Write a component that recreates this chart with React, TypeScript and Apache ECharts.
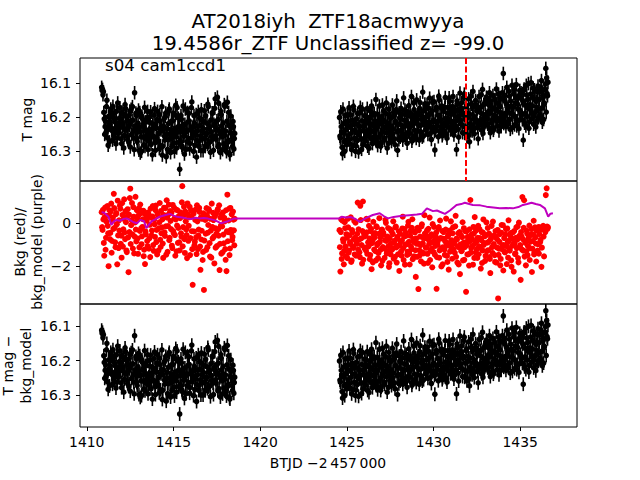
import React, { useEffect, useRef } from "react";
import * as echarts from "echarts";

// ---- data ----
const SEG1_START = 1410.86;
const SEG2_START = 1424.58;
const CADENCE = 0.05;
const HALF_STEP = 0.025;
const MAG_ERR = 0.02;
const MARK_TIME = 1431.85;

// cadences at SEGn_START + i*CADENCE
const seg1Mag = [
  16.112, 16.118, 16.125, 16.205, 16.228, 16.245, 16.150, 16.262, 16.198, 16.273,
  16.215, 16.188, 16.240, 16.168, 16.256, 16.207, 16.232, 16.183, 16.262, 16.219,
  16.246, 16.172, 16.205, 16.278, 16.229, 16.191, 16.254, 16.163, 16.238, 16.211,
  16.267, 16.196, 16.224, 16.288, 16.177, 16.249, 16.209, 16.262, 16.128, 16.236,
  16.195, 16.272, 16.218, 16.298, 16.186, 16.243, 16.301, 16.205, 16.259, 16.228,
  16.287, 16.214, 16.252, 16.183, 16.269, 16.236, 16.198, 16.281, 16.242, 16.221,
  16.256, 16.175, 16.298, 16.232, 16.207, 16.271, 16.248, 16.193, 16.284, 16.226,
  16.312, 16.241, 16.204, 16.267, 16.188, 16.251, 16.295, 16.219, 16.176, 16.263,
  16.238, 16.286, 16.211, 16.247, 16.302, 16.194, 16.258, 16.172, 16.229, 16.275,
  16.354, 16.243, 16.206, 16.289, 16.167, 16.254, 16.221, 16.296, 16.238, 16.186,
  16.263, 16.211, 16.278, 16.239, 16.155, 16.252, 16.301, 16.217, 16.244, 16.192,
  16.269, 16.227, 16.286, 16.203, 16.255, 16.178, 16.241, 16.299, 16.214, 16.262,
  16.196, 16.248, 16.281, 16.169, 16.235, 16.273, 16.209, 16.257, 16.188, 16.298,
  16.226, 16.146, 16.264, 16.211, 16.287, 16.159, 16.242, 16.305, 16.193, 16.258,
  16.217, 16.279, 16.168, 16.241, 16.302, 16.156, 16.268, 16.224, 16.311, 16.197,
  16.249, 16.286, 16.228, 16.263,
];
// cadences at SEG1_START + HALF_STEP + i*CADENCE
const seg1MagB = [
  16.121, 16.134, 16.186, 16.251, 16.212, 16.169, 16.237, 16.283, 16.224, 16.197,
  16.176, 16.234, 16.268, 16.201, 16.189, 16.247, 16.279, 16.226, 16.158, 16.241,
  16.203, 16.229, 16.264, 16.185, 16.218, 16.291, 16.236, 16.174, 16.199, 16.258,
  16.232, 16.275, 16.182, 16.214, 16.252, 16.169, 16.241, 16.296, 16.227, 16.188,
  16.263, 16.244, 16.179, 16.231, 16.306, 16.258, 16.197, 16.223, 16.282, 16.171,
  16.238, 16.265, 16.202, 16.296, 16.247, 16.215, 16.184, 16.259, 16.311, 16.233,
  16.194, 16.274, 16.221, 16.262, 16.183, 16.247, 16.293, 16.212, 16.238, 16.169,
  16.286, 16.227, 16.256, 16.198, 16.317, 16.234, 16.267, 16.181, 16.249, 16.305,
  16.212, 16.261, 16.188, 16.276, 16.233, 16.165, 16.291, 16.245, 16.203, 16.227,
  16.268, 16.195, 16.284, 16.231, 16.257, 16.309, 16.176, 16.243, 16.272, 16.214,
  16.189, 16.294, 16.236, 16.172, 16.261, 16.228, 16.195, 16.283, 16.251, 16.318,
  16.241, 16.183, 16.272, 16.225, 16.299, 16.207, 16.264, 16.234, 16.181, 16.287,
  16.253, 16.218, 16.162, 16.276, 16.229, 16.304, 16.243, 16.187, 16.265, 16.221,
  16.174, 16.255, 16.232, 16.141, 16.207, 16.281, 16.249, 16.183, 16.226, 16.296,
  16.238, 16.163, 16.254, 16.291, 16.212, 16.274, 16.186, 16.307, 16.245, 16.231,
  16.272, 16.213, 16.294, 16.248,
];

const seg2Mag = [
  16.201, 16.262, 16.228, 16.289, 16.176, 16.247, 16.301, 16.214, 16.268, 16.193,
  16.255, 16.172, 16.279, 16.231, 16.296, 16.208, 16.168, 16.262, 16.219, 16.285,
  16.246, 16.189, 16.303, 16.227, 16.171, 16.265, 16.211, 16.282, 16.239, 16.196,
  16.271, 16.218, 16.174, 16.256, 16.292, 16.203, 16.241, 16.167, 16.278, 16.226,
  16.189, 16.263, 16.148, 16.235, 16.284, 16.212, 16.167, 16.251, 16.276, 16.198,
  16.243, 16.181, 16.268, 16.214, 16.158, 16.291, 16.229, 16.176, 16.257, 16.203,
  16.272, 16.164, 16.236, 16.195, 16.281, 16.216, 16.152, 16.298, 16.241, 16.187,
  16.259, 16.174, 16.225, 16.268, 16.143, 16.209, 16.252, 16.183, 16.277, 16.221,
  16.166, 16.248, 16.197, 16.139, 16.262, 16.218, 16.178, 16.254, 16.205, 16.149,
  16.241, 16.186, 16.268, 16.157, 16.224, 16.198, 16.126, 16.255, 16.213, 16.172,
  16.236, 16.162, 16.251, 16.193, 16.144, 16.228, 16.266, 16.181, 16.213, 16.154,
  16.297, 16.239, 16.171, 16.215, 16.258, 16.148, 16.196, 16.232, 16.167, 16.249,
  16.183, 16.241, 16.142, 16.217, 16.262, 16.171, 16.206, 16.153, 16.238, 16.192,
  16.227, 16.139, 16.253, 16.185, 16.211, 16.296, 16.162, 16.236, 16.178, 16.129,
  16.214, 16.157, 16.246, 16.188, 16.132, 16.229, 16.171, 16.258, 16.201, 16.146,
  16.273, 16.219, 16.162, 16.241, 16.124, 16.197, 16.233, 16.151, 16.208, 16.176,
  16.264, 16.139, 16.216, 16.171, 16.238, 16.118, 16.193, 16.227, 16.154, 16.202,
  16.145, 16.221, 16.183, 16.128, 16.246, 16.167, 16.209, 16.136, 16.232, 16.174,
  16.198, 16.117, 16.226, 16.159, 16.241, 16.142, 16.187, 16.213, 16.128, 16.071,
  16.201, 16.153, 16.228, 16.112, 16.184, 16.219, 16.138, 16.236, 16.167, 16.106,
  16.192, 16.131, 16.223, 16.158, 16.104, 16.211, 16.176, 16.234, 16.121, 16.185,
  16.146, 16.208, 16.268, 16.117, 16.189, 16.226, 16.135, 16.172, 16.101, 16.214,
  16.163, 16.098, 16.204, 16.142, 16.221, 16.119, 16.185, 16.153, 16.211, 16.108,
  16.176, 16.124, 16.198, 16.092, 16.215, 16.141, 16.162, 16.118, 16.056, 16.084,
  16.137,
];
const seg2MagB = [
  16.256, 16.184, 16.243, 16.308, 16.219, 16.272, 16.195, 16.237, 16.281, 16.226,
  16.212, 16.267, 16.193, 16.248, 16.223, 16.284, 16.179, 16.239, 16.301, 16.205,
  16.269, 16.221, 16.252, 16.187, 16.242, 16.295, 16.176, 16.228, 16.263, 16.214,
  16.198, 16.247, 16.286, 16.213, 16.237, 16.182, 16.264, 16.221, 16.193, 16.259,
  16.247, 16.213, 16.272, 16.191, 16.228, 16.259, 16.203, 16.286, 16.219, 16.164,
  16.208, 16.262, 16.231, 16.189, 16.246, 16.218, 16.277, 16.195, 16.236, 16.258,
  16.227, 16.249, 16.186, 16.264, 16.213, 16.178, 16.243, 16.222, 16.267, 16.201,
  16.204, 16.238, 16.192, 16.251, 16.227, 16.179, 16.262, 16.213, 16.195, 16.244,
  16.232, 16.187, 16.226, 16.271, 16.204, 16.158, 16.239, 16.192, 16.263, 16.218,
  16.193, 16.225, 16.174, 16.243, 16.206, 16.259, 16.182, 16.221, 16.161, 16.238,
  16.198, 16.227, 16.173, 16.215, 16.249, 16.188, 16.232, 16.156, 16.208, 16.243,
  16.212, 16.179, 16.226, 16.194, 16.138, 16.241, 16.207, 16.173, 16.255, 16.219,
  16.226, 16.171, 16.204, 16.252, 16.188, 16.229, 16.143, 16.213, 16.181, 16.236,
  16.169, 16.213, 16.241, 16.178, 16.227, 16.152, 16.198, 16.259, 16.207, 16.184,
  16.174, 16.223, 16.193, 16.142, 16.248, 16.207, 16.166, 16.231, 16.189, 16.253,
  16.192, 16.138, 16.227, 16.171, 16.205, 16.249, 16.163, 16.214, 16.182, 16.231,
  16.171, 16.223, 16.186, 16.134, 16.207, 16.248, 16.162, 16.219, 16.193, 16.141,
  16.206, 16.162, 16.231, 16.189, 16.152, 16.217, 16.176, 16.239, 16.195, 16.148,
  16.158, 16.213, 16.183, 16.132, 16.204, 16.169, 16.228, 16.146, 16.191, 16.219,
  16.136, 16.192, 16.161, 16.214, 16.175, 16.124, 16.207, 16.152, 16.189, 16.231,
  16.171, 16.118, 16.198, 16.143, 16.226, 16.162, 16.137, 16.209, 16.182, 16.128,
  16.193, 16.152, 16.121, 16.218, 16.164, 16.106, 16.198, 16.147, 16.233, 16.176,
  16.132, 16.189, 16.167, 16.114, 16.196, 16.148, 16.229, 16.171, 16.126, 16.202,
  16.148, 16.193, 16.112, 16.173, 16.136, 16.207, 16.159, 16.102, 16.185, 16.131,
  16.097,
];

const seg1Bkg = [
  0.52, -0.31, 0.18, -1.52, 0.74, -0.68, 0.35, -0.12, -2.01, 0.61,
  -0.45, 0.92, -0.83, 0.27, 1.38, -0.21, -1.12, 0.48, -1.92, -0.57,
  0.14, 0.83, -0.96, -1.61, 0.39, -0.28, 1.12, -0.74, 0.05, -1.35,
  0.66, -2.29, -0.41, 1.62, -0.09, 0.95, -1.18, 0.31, -0.62, 1.24,
  -0.85, 0.22, -1.43, 0.71, -0.36, 0.48, -0.98, -0.17, 0.59, -1.24,
  -1.91, -0.52, 0.12, -1.07, 0.43, -0.71, -1.58, 0.26, -0.34, 0.81,
  -1.29, -0.05, 0.62, -0.88, -1.46, 0.37, -0.23, 0.95, -1.11, -0.47,
  0.18, -1.62, 0.73, -0.59, -0.14, 1.08, -1.34, 0.41, -0.79, 0.57,
  -0.27, -1.05, 0.86, -0.46, 0.23, -1.52, 0.64, -0.11, -0.92, 0.34,
  -1.27, 0.51, -0.63, 1.74, -0.18, 0.77, -1.39, 0.09, -0.55, 0.93,
  -0.82, 0.28, -1.49, 0.62, -0.37, -2.88, 0.45, -1.03, 0.16, -0.66,
  0.84, -1.21, -0.29, 0.53, -2.18, -0.76, 0.21, -1.34, -3.12, 0.38,
  -0.49, 0.71, -1.12, -0.08, 0.58, -1.56, -0.34, 0.92, -0.71, 0.15,
  -1.88, -0.23, 0.44, -1.07, 0.66, -0.58, -2.19, 0.27, -1.42, -0.15,
  0.51, -0.94, 0.09, -1.71, -2.24, 1.34, -0.42, 0.68, -1.18, -0.31,
  0.42, -0.64, 0.17, -1.03,
];
const seg1BkgB = [
  -0.18, 0.63, -0.92, 0.29, -1.24, 0.08, 0.81, -0.47, 0.36, -0.74,
  0.55, -1.38, 0.12, -0.26, 0.71, -0.89, 0.43, -0.05, 1.06, -1.16,
  -0.34, 0.68, -0.58, 0.94, -1.09, 0.21, -0.43, 0.57, -1.27, 0.33,
  -0.66, 0.41, 1.18, -0.97, 0.15, -0.52, 0.76, -1.41, 0.04, -0.29,
  0.62, -0.71, 0.37, -1.13, 0.88, -0.24, -0.61, 0.19, -1.54, 0.45,
  -0.38, 0.27, -0.83, 0.51, -1.19, -0.07, 0.69, -0.56, 0.32, -1.02,
  0.17, -0.64, 0.83, -0.31, 0.46, -1.28, 0.05, -0.77, 0.58, -0.19,
  -0.95, 0.39, -0.42, 0.71, -1.47, 0.26, -0.13, 0.87, -0.68, 0.11,
  0.49, -1.16, -0.36, 0.73, -0.55, 0.18, -1.31, 0.61, -0.22, -0.89,
  0.24, -0.47, 0.98, -1.08, 0.36, -0.74, 0.55, -0.29, -1.63, 0.42,
  -0.12, 0.77, -0.69, 0.31, -1.21, 0.53, -0.38, -0.86, 0.64, -1.44,
  0.09, -0.57, 0.72, -1.09, 0.28, -0.35, -1.72, 0.47, -0.81, 0.16,
  -1.25, 0.37, -0.44, 0.66, -0.93, 0.21, -1.61, -0.17, 0.49, -0.62,
  0.32, -1.14, -0.48, 0.59, -0.27, 0.84, -0.96, -0.11, 0.42, -1.36,
  -0.53, 0.26, -1.21, 0.61, -0.37, -0.84, 0.13, -1.49, 0.72, -0.46,
  -0.79, 0.55, -0.33, 0.21,
];

const seg2Bkg = [
  -0.32, -2.26, 0.18, -1.41, -0.75, -1.92, 0.05, -1.08, -0.51, -1.63,
  -0.19, -1.27, -0.88, 0.28, -1.74, -0.43, -1.15, 0.11, -0.67, -1.52,
  -0.96, 0.97, -0.28, -1.36, 0.82, -0.71, -1.89, 1.02, -0.45, -1.18,
  -0.58, 0.21, -1.43, -0.89, -0.12, -1.68, -0.37, -2.15, -0.81, 0.07,
  -1.23, -0.46, -1.74, -0.18, -0.95, -1.39, 0.24, -0.66, -1.97, -0.29,
  -1.11, -0.54, -1.62, 0.16, -0.83, -1.31, -0.22, -2.04, -0.71, -1.46,
  -0.38, -1.19, 0.09, -0.92, -1.57, -0.15, -1.84, -0.63, -1.06, -2.23,
  -0.49, -1.33, -0.81, 0.31, -1.72, -0.27, -1.01, -0.58, -1.48, -0.11,
  -0.87, -1.93, -0.36, -1.21, 0.19, -0.74, -1.55, -0.43, -2.51, -0.96,
  -0.21, -3.08, -1.26, -0.62, -1.78, -0.05, -0.93, -1.41, 0.38, -0.69,
  -1.14, -0.33, -1.86, -0.78, 0.27, -1.29, -0.52, -2.06, -0.88, -0.17,
  -1.47, -0.64, -3.07, -0.99, -0.26, -1.61, 0.13, -1.17, -0.71, -1.92,
  -0.41, -1.24, -0.85, 0.22, -1.53, -0.61, -2.17, -0.34, -1.08, -0.79,
  -1.66, -0.19, -0.95, -1.38, 0.35, -0.72, -1.84, -0.47, -1.13, -2.38,
  -0.56, -1.29, 0.05, -0.91, -1.71, -0.37, -3.21, -1.02, -0.63, -1.45,
  -0.28, 1.09, -1.16, -0.74, -1.94, -0.48, 0.29, -1.37, -0.86, -1.62,
  -0.12, -1.08, -0.69, -2.12, -0.41, -1.27, 0.18, -0.93, -1.76, -0.55,
  -1.31, -0.22, -0.87, -1.58, -2.33, -0.64, -1.12, 0.08, -0.97, -1.49,
  -0.36, -1.84, -0.76, -3.52, -1.19, -0.51, -1.67, -0.08, -1.03, -2.21,
  -0.69, -1.36, -0.27, -1.91, -0.88, 0.14, -1.22, -0.58, -1.74, -1.06,
  -0.43, -2.26, -0.95, -1.41, -0.19, -0.77, -1.63, 0.03, -1.12, -2.65,
  -0.61, 1.23, -1.28, 1.08, -0.84, -1.97, -0.35, -1.49, -0.72, -0.11,
  -1.17, -0.54, -2.28, -0.83, 0.12, -1.36, -0.66, -1.79, -0.25, -0.98,
  -1.42, -0.19, -0.77, -2.04, -0.28, -0.12, -1.55, -0.22, 1.32, 1.64,
  -0.26,
];
const seg2BkgB = [
  -1.12, -0.41, -1.67, 0.12, -0.86, -1.29, -0.23, -1.54, -0.68, 0.21,
  -1.38, -0.57, -0.96, -1.81, -0.32, -1.09, -0.74, -1.46, 0.03, -0.88,
  -0.49, -1.23, -0.77, -1.58, 0.15, -1.02, -0.36, -1.71, -0.62, -1.14,
  -1.27, -0.42, 0.18, -1.08, -0.71, -1.49, -0.26, -0.93, -1.83, -0.55,
  -0.67, -1.31, -0.14, -1.02, -1.63, -0.49, -0.88, -1.24, -0.31, -1.76,
  -0.43, -1.18, -0.79, 0.02, -1.41, -0.62, -1.07, -1.87, -0.28, -0.94,
  -1.24, -0.51, -1.66, -0.82, -0.19, -1.13, -0.72, -1.45, -0.37, -1.01,
  -0.86, -1.52, -0.24, -1.17, -0.63, -1.94, -0.45, -0.98, -1.33, 0.07,
  -1.42, -0.58, -1.09, -0.21, -1.68, -0.87, -0.39, -1.26, -0.71, -1.57,
  -0.94, -0.33, -1.51, -1.02, -0.15, -1.36, -0.67, -1.89, -0.48, -1.13,
  -0.59, -1.43, -0.26, -0.97, -1.72, -0.61, -1.18, -0.04, -1.35, -0.81,
  -1.06, -0.44, -1.59, -0.83, -0.18, -1.27, -0.69, -2.02, -0.36, -1.12,
  -0.73, -1.48, -0.29, -1.05, -1.81, -0.52, -0.94, -1.33, 0.09, -1.16,
  -0.47, -1.22, -0.86, -0.14, -1.57, -0.76, -1.08, -1.93, -0.41, -0.99,
  -1.31, -0.65, -1.74, -0.23, -1.12, -0.89, -0.38, -1.46, -0.71, -1.98,
  -0.84, -1.37, -0.52, -1.06, -0.17, -1.62, -0.93, -0.34, -1.21, -0.68,
  -1.45, -0.27, -1.14, -0.79, -1.86, -0.43, -1.01, -0.61, -1.53, 0.04,
  -0.91, -1.26, -0.48, -1.67, -0.75, -0.12, -1.39, -1.04, -0.57, -1.81,
  -0.66, -1.13, -0.31, -1.48, -0.87, -1.97, -0.44, -1.21, -0.09, -1.02,
  -1.34, -0.52, -1.07, -0.24, -1.61, -0.81, -1.28, -0.46, -2.04, -0.73,
  -0.97, -0.36, -1.44, -0.68, -1.16, -0.15, -1.83, -0.59, -1.02, -0.41,
  -1.23, -0.74, -0.21, -1.56, -0.92, -1.31, -0.48, -1.07, -0.63, -1.72,
  -0.86, -0.27, -1.19, -0.53, -1.46, -0.19, -0.95, -0.34, -1.28, -0.18,
  -0.51, -0.88, -0.29, -1.14, -0.21, -0.62, -0.17, -0.41, -0.24, -0.15,
  -0.19,
];

const modelTimes = [
  1410.86, 1411.0, 1411.1, 1411.25, 1411.42, 1411.55, 1411.7, 1411.9, 1412.1, 1412.3,
  1412.5, 1412.7, 1412.9, 1413.1, 1413.3, 1413.44, 1413.6, 1413.75, 1413.95, 1414.2,
  1414.5, 1414.8, 1415.0, 1415.2, 1415.5, 1415.75, 1416.0, 1416.3, 1416.5, 1416.75,
  1417.0, 1417.3, 1417.5, 1417.75, 1417.95, 1418.1, 1418.3, 1418.51, 1424.58, 1424.7,
  1424.95, 1425.25, 1425.5, 1425.75, 1426.0, 1426.25, 1426.5, 1426.9, 1427.15, 1427.37,
  1427.7, 1428.0, 1428.23, 1428.6, 1429.04, 1429.35, 1429.62, 1429.97, 1430.2, 1430.37,
  1430.66, 1430.95, 1431.33, 1431.6, 1431.81, 1432.27, 1432.7, 1433.06, 1433.45, 1433.83,
  1434.2, 1434.58, 1434.9, 1435.16, 1435.4, 1435.66, 1435.9, 1436.14, 1436.43, 1436.62,
  1436.75, 1436.89,
];
const modelValues = [
  0.52, 0.5, 0.42, 0.31, -0.08, 0.08, 0.16, 0.12, 0.2, 0.23,
  0.15, 0.05, 0.0, 0.16, 0.1, -0.23, -0.05, 0.1, 0.18, 0.31,
  0.38, 0.44, 0.36, 0.31, 0.27, 0.23, 0.2, 0.26, 0.23, 0.25,
  0.22, 0.16, 0.1, 0.0, 0.05, 0.08, 0.16, 0.23, 0.23, 0.31,
  0.27, 0.29, 0.2, 0.07, 0.2, 0.3, 0.39, 0.47, 0.33, 0.23,
  0.3, 0.33, 0.35, 0.38, 0.41, 0.45, 0.7, 0.57, 0.6, 0.54,
  0.44, 0.6, 0.86, 0.9, 0.96, 0.86, 0.84, 0.78, 0.74, 0.7,
  0.72, 0.7, 0.76, 0.86, 0.9, 0.96, 0.9, 0.86, 0.7, 0.31,
  0.45, 0.47,
];

const xTicks = [1410, 1415, 1420, 1425, 1430, 1435];
const magTicks = [16.1, 16.2, 16.3];
const bkgTicks = [-2, 0];

const TITLE_LINE1 = "AT2018iyh  ZTF18acmwyya";
const TITLE_LINE2 = "19.4586r_ZTF Unclassified z= -99.0";
const CORNER_TEXT = "s04 cam1ccd1";
const X_LABEL = "BTJD \u22122\u2009457\u2009000";

// ---- helpers ----
const FONT = "DejaVu Sans";
const withTimes = (start: number, vals: number[]) =>
  vals.map((v, i) => [+(start + i * CADENCE).toFixed(3), v]);

const magPoints = [
  ...withTimes(SEG1_START, seg1Mag),
  ...withTimes(SEG1_START + HALF_STEP, seg1MagB),
  ...withTimes(SEG2_START, seg2Mag),
  ...withTimes(SEG2_START + HALF_STEP, seg2MagB),
];
const bkgPoints = [
  ...withTimes(SEG1_START, seg1Bkg),
  ...withTimes(SEG1_START + HALF_STEP, seg1BkgB),
  ...withTimes(SEG2_START, seg2Bkg),
  ...withTimes(SEG2_START + HALF_STEP, seg2BkgB),
];
const modelPoints = modelTimes.map((t, i) => [t, modelValues[i]]);

const fmt = (v: number, d: number) => {
  const s = Math.abs(v).toFixed(d);
  return v < 0 ? "\u2212" + s : s;
};

const errRender = (params: any, api: any) => {
  const t = api.value(0);
  const m = api.value(1);
  const c = api.coord([t, m]);
  const lo = api.coord([t, m - MAG_ERR]);
  const hi = api.coord([t, m + MAG_ERR]);
  return {
    type: "group",
    children: [
      {
        type: "line",
        shape: { x1: c[0], y1: lo[1], x2: c[0], y2: hi[1] },
        style: { stroke: "#000", lineWidth: 1.6 },
      },
      {
        type: "circle",
        shape: { cx: c[0], cy: c[1], r: 2.8 },
        style: { fill: "#000" },
      },
    ],
  };
};

export default function App() {
  const ref = useRef<HTMLDivElement>(null);

  useEffect(() => {
    if (!ref.current) return;
    const chart = echarts.init(ref.current, undefined, { renderer: "svg" });

    const GL = 80, GR = 63;
    const grids = [
      { left: GL, right: GR, top: 58, height: 123 },
      { left: GL, right: GR, top: 181, height: 123 },
      { left: GL, right: GR, top: 304, height: 123 },
    ].map((g) => ({ ...g, show: true, borderColor: "#000", borderWidth: 1, backgroundColor: "transparent" }));

    const baseX = (i: number, show: boolean) => ({
      type: "value",
      gridIndex: i,
      min: 1409.61,
      max: 1438.28,
      show,
      axisLine: { show: false },
      splitLine: { show: false },
      axisTick: { show, length: 4, lineStyle: { color: "#000", width: 1 }, customValues: xTicks },
      axisLabel: {
        show,
        customValues: xTicks,
        fontFamily: FONT,
        fontSize: 13.9,
        color: "#000",
        margin: 8,
        formatter: (v: number) => String(v),
      },
    });

    const baseY = (i: number, min: number, max: number, ticks: number[], inverse: boolean, dec: number) => ({
      type: "value",
      gridIndex: i,
      min,
      max,
      inverse,
      axisLine: { show: false },
      splitLine: { show: false },
      axisTick: { show: true, length: 4, lineStyle: { color: "#000", width: 1 }, customValues: ticks },
      axisLabel: {
        customValues: ticks,
        fontFamily: FONT,
        fontSize: 13.9,
        color: "#000",
        margin: 9,
        formatter: (v: number) => fmt(v, dec),
      },
    });

    const textStyle = (size: number) => ({ fontFamily: FONT, fontSize: size, fill: "#000" });

    chart.setOption({
      animation: false,
      backgroundColor: "#fff",
      grid: grids,
      xAxis: [baseX(0, false), baseX(1, false), baseX(2, true)],
      yAxis: [
        baseY(0, 16.0253, 16.3886, magTicks, true, 1),
        baseY(1, -3.78, 1.981, bkgTicks, false, 0),
        baseY(2, 16.0365, 16.3915, magTicks, true, 1),
      ],
      series: [
        {
          type: "custom",
          xAxisIndex: 0,
          yAxisIndex: 0,
          data: magPoints,
          encode: { x: 0, y: 1 },
          renderItem: errRender,
          clip: true,
          z: 2,
        },
        {
          type: "line",
          xAxisIndex: 0,
          yAxisIndex: 0,
          data: [],
          z: 5,
          markLine: {
            silent: true,
            symbol: ["none", "none"],
            label: { show: false },
            lineStyle: { color: "#ff0000", width: 2, type: [6, 2.5] },
            data: [{ xAxis: MARK_TIME }],
          },
        },
        {
          type: "scatter",
          xAxisIndex: 1,
          yAxisIndex: 1,
          data: bkgPoints,
          symbol: "circle",
          symbolSize: 6,
          itemStyle: { color: "#ff0000", opacity: 1 },
          z: 2,
        },
        {
          type: "line",
          xAxisIndex: 1,
          yAxisIndex: 1,
          data: modelPoints,
          showSymbol: false,
          symbol: "none",
          lineStyle: { color: "#bf00bf", width: 2 },
          z: 4,
        },
        {
          type: "custom",
          xAxisIndex: 2,
          yAxisIndex: 2,
          data: magPoints,
          encode: { x: 0, y: 1 },
          renderItem: errRender,
          clip: true,
          z: 2,
        },
      ],
      graphic: [
        { type: "text", x: 328, y: 21.4, style: { ...textStyle(19.8), text: TITLE_LINE1, align: "center", verticalAlign: "middle" } },
        { type: "text", x: 328, y: 43.5, style: { ...textStyle(19.8), text: TITLE_LINE2, align: "center", verticalAlign: "middle" } },
        { type: "text", x: 105, y: 65, z: 10, style: { ...textStyle(16.7), text: CORNER_TEXT, align: "left", verticalAlign: "middle" } },
        { type: "text", x: 27, y: 119.5, rotation: Math.PI / 2, style: { ...textStyle(13.9), text: "T mag", align: "center", verticalAlign: "middle" } },
        { type: "text", x: 28.5, y: 242, rotation: Math.PI / 2, style: { ...textStyle(13.9), text: "Bkg (red)/\nbkg_model (purple)", align: "center", verticalAlign: "middle", lineHeight: 17 } },
        { type: "text", x: 16.5, y: 365.5, rotation: Math.PI / 2, style: { ...textStyle(13.9), text: "T mag \u2212\nbkg_model", align: "center", verticalAlign: "middle", lineHeight: 18 } },
        { type: "text", x: 328, y: 463, style: { ...textStyle(13.9), text: X_LABEL, align: "center", verticalAlign: "middle" } },
      ],
    });

    return () => chart.dispose();
  }, []);

  return (
    <div
      ref={ref}
      style={{ position: "fixed", left: 0, top: 0, width: 640, height: 480, background: "#fff" }}
    />
  );
}
